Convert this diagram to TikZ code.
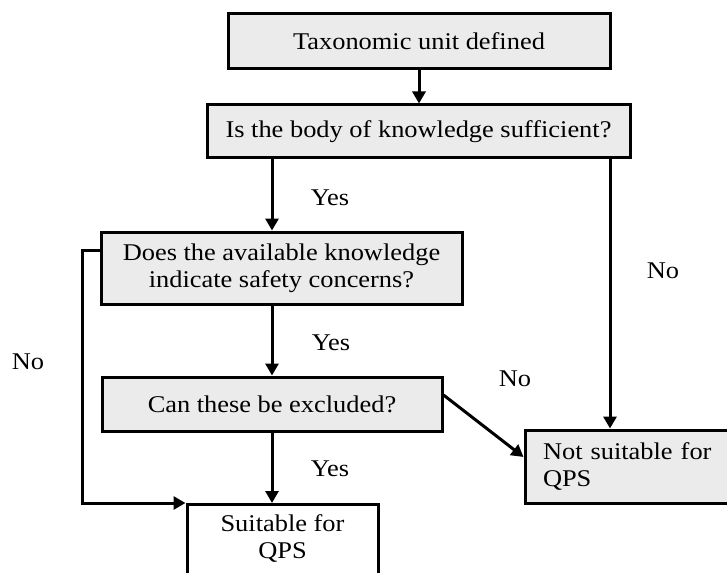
\documentclass[tikz,border=0pt]{standalone}
\usepackage{fontspec}
\setmainfont{Liberation Serif}[FakeStretch=1.1]
\usetikzlibrary{arrows.meta}
\definecolor{boxgray}{RGB}{235,235,235}

\begin{document}
\begin{tikzpicture}[
		x=1pt,y=-1pt,
		font=\fontsize{24}{27}\selectfont,
		line width=3pt,
		box/.style={draw,fill=boxgray,inner sep=0pt,align=center},
		plain/.style={draw,inner sep=0pt},
		arr/.style={-{Triangle[length=12pt,width=13pt]}},
		lbl/.style={inner sep=0pt}
		]
		\useasboundingbox (0,0) rectangle (727,572);
		\node[box,minimum width=382,minimum height=55] (tax) at (419,41.5) {Taxonomic unit defined};
		\node[box,minimum width=423,minimum height=53] (body) at (418.5,131.5) {Is the body of knowledge sufficient?};
		\node[box,minimum width=361,minimum height=72] (concern) at (281.5,268) {Does the available knowledge\\indicate safety concerns?};
		\node[box,minimum width=340,minimum height=54] (excl) at (272,404) {Can these be excluded?};
		\node[plain,anchor=north,minimum width=191,minimum height=100] (suit) at (282.5,503) {};
		\node[lbl,align=center] (suittxt) at (282.5,538) {Suitable for\\QPS};
		\node[box,inner xsep=18pt,text width=179pt,align=left,minimum height=73] (notsuit) at (632.5,466.5) {Not suitable for\\QPS};
		
		\coordinate (rt) at (610,0);
		\coordinate (lt) at (82,250);
		
		\draw[arr] (tax.south) -- (tax.south |- body.north);
		\draw[arr] (body.south -| excl) -- (concern.north -| excl);
		\draw[arr] (concern.south -| excl) -- (excl.north);
		\draw[arr] (excl.south) -- (suit.north -| excl);
		\draw[arr] (body.south -| rt) -- (notsuit.north -| rt);
		\draw[arr] (concern.west |- lt) -- (lt) -- (lt |- suit.north) -- (suit.north west);
		\draw[arr] ([yshift=9pt]excl.east) -- ([yshift=9.5pt]notsuit.west);
		
		\node[lbl] (yes1) at (330,198) {Yes};
		\node[lbl] (yes2) at (331,343) {Yes};
		\node[lbl] (yes3) at (330,469) {Yes};
		\node[lbl] (no1) at (28,362) {No};
		\node[lbl] (no2) at (663,271) {No};
		\node[lbl] (no3) at (515,379) {No};
\end{tikzpicture}
\end{document}
